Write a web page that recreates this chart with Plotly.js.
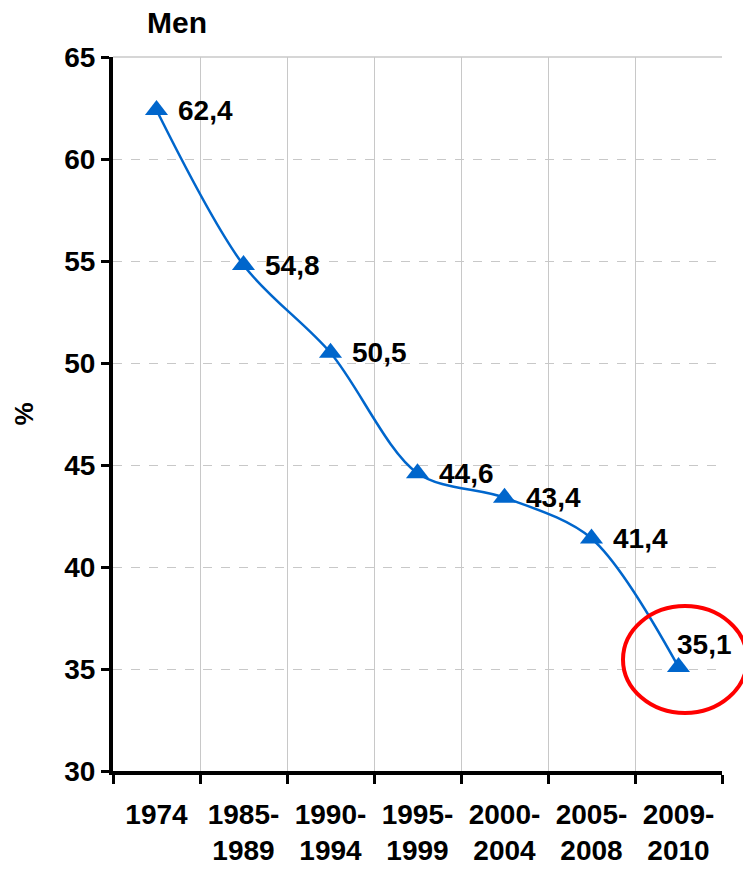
<!DOCTYPE html>
<html>
<head>
<meta charset="utf-8">
<script src="https://cdn.plot.ly/plotly-3.0.1.min.js"></script>
<style>html,body{margin:0;padding:0;background:#fff;}#chart{width:743px;height:870px;}</style>
</head>
<body>
<div id="chart"></div>
<script>
const categories = ["1974", "1985-1989", "1990-1994", "1995-1999", "2000-2004", "2005-2008", "2009-2010"];
const tickLabels = ["1974", "1985-<br>1989", "1990-<br>1994", "1995-<br>1999", "2000-<br>2004", "2005-<br>2008", "2009-<br>2010"];
const values = [62.4, 54.8, 50.5, 44.6, 43.4, 41.4, 35.1];
const valueLabels = ["62,4", "54,8", "50,5", "44,6", "43,4", "41,4", "35,1"];
const chartTitle = "Men";
const yTitle = "%";

const FONT = "Arial, 'Liberation Sans', sans-serif";

const trace = {
  x: categories,
  y: values,
  type: "scatter",
  mode: "lines+markers",
  line: {color: "#0066CC", width: 2.5, shape: "spline", smoothing: 0.9},
  marker: {symbol: "triangle-up", size: 20, color: "#0066CC"},
  hoverinfo: "skip"
};

const last = values.length - 1;
const annotations = values.map((v, i) => ({
  x: i, y: v, xref: "x", yref: "y",
  text: "<b>" + valueLabels[i] + "</b>",
  showarrow: false, xanchor: "left", yanchor: "middle",
  xshift: i === last ? -4 : 19, yshift: i === last ? 22 : 0,
  font: {family: FONT, size: 28, color: "#000"}
}));

const layout = {
  width: 743, height: 870,
  margin: {l: 113, r: 21, t: 57, b: 99},
  paper_bgcolor: "#fff", plot_bgcolor: "#fff",
  showlegend: false,
  font: {family: FONT, color: "#000"},
  title: {
    text: "<b>" + chartTitle + "</b>",
    x: 177 / 743, xanchor: "center", xref: "container",
    y: 1 - 22 / 870, yanchor: "middle", yref: "container",
    font: {family: FONT, size: 30, color: "#000"}
  },
  xaxis: {
    type: "category",
    categoryorder: "array", categoryarray: categories,
    range: [-0.5, categories.length - 0.5], autorange: false,
    tickvals: categories, ticktext: tickLabels,
    tickson: "boundaries",
    showgrid: true, gridcolor: "#c8c8c8", gridwidth: 1,
    showline: true, linecolor: "#000", linewidth: 4,
    ticks: "outside", ticklen: 9, tickwidth: 3, tickcolor: "#000",
    tickfont: {family: FONT, size: 28, color: "#000", weight: "bold"},
    tickangle: 0,
    ticklabelstandoff: 15,
    zeroline: false, fixedrange: true
  },
  yaxis: {
    range: [30, 65], autorange: false, dtick: 5, tick0: 30,
    showgrid: true, gridcolor: "#c8c8c8", gridwidth: 1, griddash: "dash",
    showline: true, linecolor: "#000", linewidth: 4,
    ticks: "outside", ticklen: 8, tickwidth: 3, tickcolor: "#000",
    tickfont: {family: FONT, size: 28, color: "#000", weight: "bold"},
    ticklabelstandoff: 0,
    title: {text: "<b>" + yTitle + "</b>", font: {family: FONT, size: 26, color: "#000"}, standoff: 24},
    zeroline: false, fixedrange: true
  },
  shapes: [
    {type: "line", xref: "paper", yref: "paper", x0: 0, x1: 1, y0: 1, y1: 1,
     line: {color: "#c8c8c8", width: 1.5}, layer: "below"},
    {type: "circle", xref: "paper", yref: "paper",
     x0: (623 - 113) / 609, x1: (747 - 113) / 609,
     y0: (771 - 713) / 714, y1: (771 - 606) / 714,
     line: {color: "#FF0000", width: 4}}
  ],
  annotations: annotations
};

Plotly.newPlot("chart", [trace], layout, {staticPlot: true, displayModeBar: false});
</script>
</body>
</html>
